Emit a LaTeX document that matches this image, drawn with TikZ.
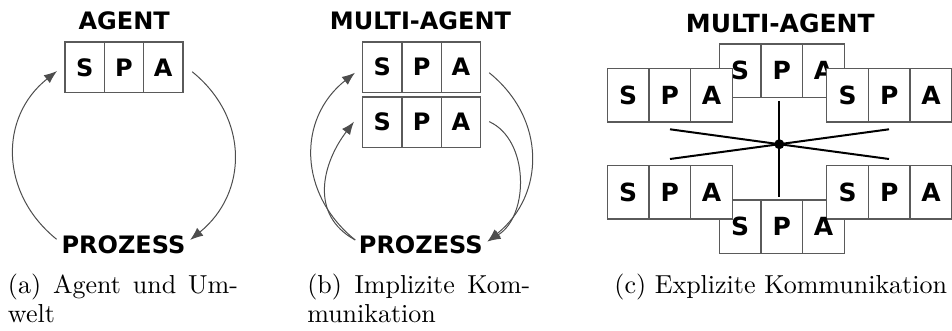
\documentclass[tikz,border=0pt]{standalone}
\usepackage{fontspec}
\setsansfont{DejaVu Sans}
\newfontfamily\capfont{lmroman10-regular.otf}
\usetikzlibrary{arrows.meta,calc}
\definecolor{boxgray}{HTML}{5A5A5A}
\definecolor{arrgray}{HTML}{4D4D4D}
\newcommand{\lblfont}[1]{\sffamily\bfseries\fontsize{#1}{#1}\selectfont}
\newcommand{\spabox}[9]{%
  \node[cell, minimum width=#4pt, minimum height=#5pt, font=\lblfont{#6}, anchor=north west] (#1S) at (#2,#3) {#7};
  \node[cell, minimum width=#4pt, minimum height=#5pt, font=\lblfont{#6}, anchor=north west] (#1P) at (#1S.north east) {#8};
  \node[cell, minimum width=#4pt, minimum height=#5pt, font=\lblfont{#6}, anchor=north west] (#1A) at (#1P.north east) {#9};
}
\begin{document}
\begin{tikzpicture}[x=1pt,y=-1pt,
  cell/.style={draw=boxgray, line width=1.4pt, fill=white, outer sep=0pt, inner sep=0pt},
  lbl/.style={inner sep=0pt, outer sep=0pt, font=\lblfont{24}},
  lblc/.style={inner sep=0pt, outer sep=0pt, font=\lblfont{25}},
  arr/.style={draw=arrgray, line width=1pt, -{Latex[length=13pt,width=10pt]}},
  captext/.style={inner sep=0pt, outer sep=0pt, font=\capfont\fontsize{26}{29.7}\selectfont},
  link/.style={draw=black, line width=2pt}]
\useasboundingbox (0,0) rectangle (952,331);

% ---------- (a) ----------
\node[lbl, anchor=base] (aT) at (124.2,29.3) {AGENT};
\spabox{a}{65}{42}{39.3}{50.7}{24}{S}{P}{A}
\node[lbl, anchor=base] (aPr) at (123.5,253.3) {PROZESS};
\draw[arr] ($(aPr.north west)+(-5,3.8)$) .. controls +(-57,-46) and +(-58,46) .. ($(aS.west)+(-8,3.7)$);
\draw[arr] ($(aA.east)+(9.3,4.4)$) .. controls +(57.5,46.5) and +(57.5,-46.5) .. ($(aPr.north east)+(4.7,4.5)$);
\node[captext, anchor=base west] (capa) at (8,293) {\parbox[t]{230pt}{\makebox[230pt][s]{(a) Agent und Um-}\\welt}};

% ---------- (b) ----------
\node[lbl, anchor=base] (bT) at (420.5,29.7) {MULTI-AGENT};
\spabox{bo}{362.7}{42}{39.3}{50.3}{24}{S}{P}{A}
\spabox{bt}{362.7}{97}{39.3}{50.3}{24}{S}{P}{A}
\node[lbl, anchor=base] (bPr) at (420.8,253.3) {PROZESS};
\draw[arr] ($(bPr.north west)+(-3.7,4.5)$) .. controls +(-57,-46) and +(-58,46) .. ($(boS.west)+(-7.7,5.6)$);
\draw[arr] ($(bPr.north west)+(-3.7,4.5)$) .. controls +(-46,-25) and +(-32,42) .. ($(btS.west)+(-8.7,-0.5)$);
\draw[arr] ($(boA.east)+(8.6,5.6)$) .. controls +(57.5,46.5) and +(57.5,-46.5) .. ($(bPr.north east)+(4.8,6)$);
\draw[arr] ($(btA.east)+(8.6,-0.5)$) .. controls +(40,18) and +(42,-26) .. ($(bPr.north east)+(4.8,6)$);
\node[captext, anchor=base west] (capb) at (307.3,293) {\parbox[t]{223pt}{\makebox[223pt][s]{(b) Implizite Kom-}\\munikation}};

% ---------- (c) ----------
\node[lblc, anchor=base] (cT) at (780.3,33) {MULTI-AGENT};
\spabox{cb}{719.3}{200}{41.7}{53.3}{25}{}{}{}
\spabox{ct}{719.3}{44}{41.7}{53.3}{25}{S}{P}{A}
\spabox{cul}{607.3}{68.7}{41.7}{53.3}{25}{S}{P}{A}
\spabox{cur}{826.7}{68.7}{41.7}{53.3}{25}{S}{P}{A}
\spabox{cll}{607.3}{165.7}{41.7}{53.3}{25}{S}{P}{A}
\spabox{clr}{826.7}{165.7}{41.7}{53.3}{25}{S}{P}{A}
\node[lblc] (cbSt) at (cbS) {S};
\node[lblc] (cbPt) at (cbP) {P};
\node[lblc] (cbAt) at (cbA) {A};
\coordinate (cc) at (779.3,144.2);
\coordinate (cvt) at (779.3,101);
\coordinate (cvb) at (779.3,196.7);
\coordinate (cd1a) at (670,129.3);
\coordinate (cd1b) at (889,159);
\coordinate (cd2a) at (670,159);
\coordinate (cd2b) at (889,129.3);
\draw[link] (cvt) -- (cc) -- (cvb);
\draw[link] (cd1a) -- (cc) -- (cd1b);
\draw[link] (cd2a) -- (cc) -- (cd2b);
\fill (cc) circle (5pt);
\node[captext, anchor=base east] (capc) at (947,293) {(c) Explizite Kommunikation};
\end{tikzpicture}
\end{document}
